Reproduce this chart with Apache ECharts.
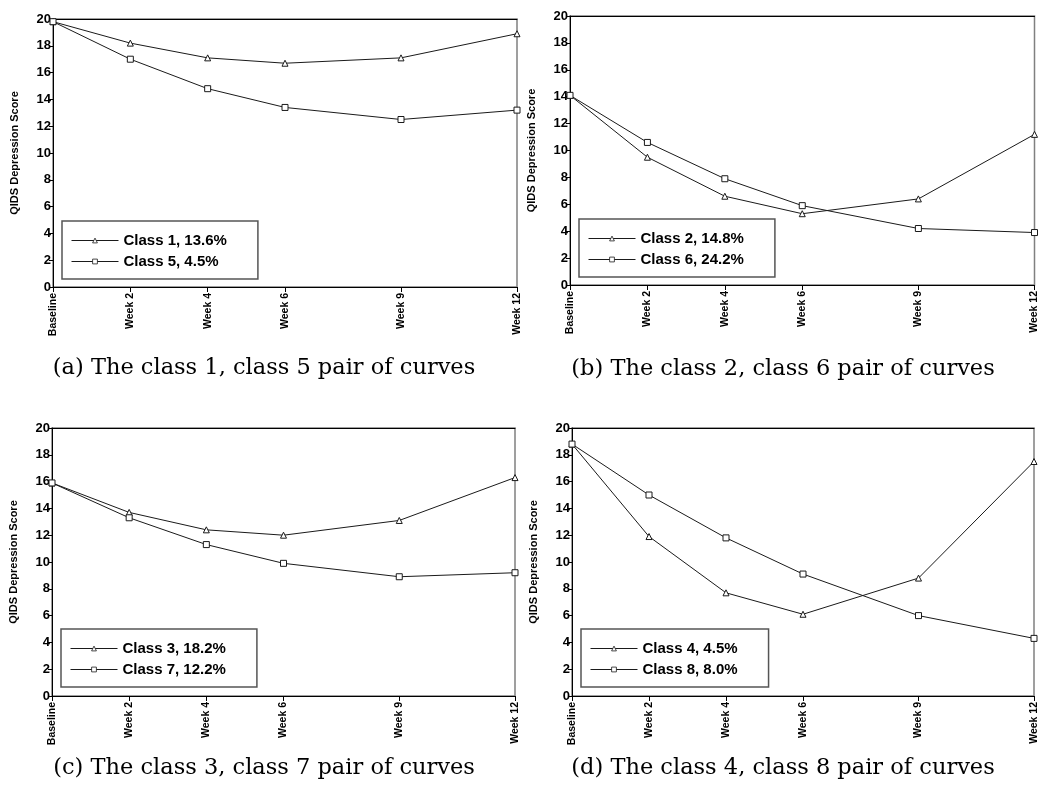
<!DOCTYPE html>
<html>
<head>
<meta charset="utf-8">
<script src="https://cdn.jsdelivr.net/npm/echarts@6/dist/echarts.min.js"></script>
<style>
html, body { margin: 0; padding: 0; background: #fff; }
#chart { width: 1040px; height: 791px; }
</style>
</head>
<body>
<div id="chart"></div>
<script>
// x positions are weeks, so week 9 sits further out like the original
var weekValues = [0, 2, 4, 6, 9, 12]
var weekLabels = ['Baseline', 'Week 2', 'Week 4', 'Week 6', 'Week 9', 'Week 12']

// QIDS scores
var class1 = [19.8, 18.2, 17.1, 16.7, 17.1, 18.9]
var class5 = [19.8, 17.0, 14.8, 13.4, 12.5, 13.2]
var class2 = [14.1, 9.5, 6.6, 5.3, 6.4, 11.2]
var class6 = [14.1, 10.6, 7.9, 5.9, 4.2, 3.9]
var class3 = [15.9, 13.7, 12.4, 12.0, 13.1, 16.3]
var class7 = [15.9, 13.3, 11.3, 9.9, 8.9, 9.2]
var class4 = [18.8, 11.9, 7.7, 6.1, 8.8, 17.5]
var class8 = [18.8, 15.0, 11.8, 9.1, 6.0, 4.3]

var panels = [
    {grid: {left: 53, top: 19, width: 464, height: 268}, legend: {left: 62, top: 221},
     caption: {x: 264, y: 368, text: '(a) The class 1, class 5 pair of curves'},
     tri: {name: 'Class 1, 13.6%', data: class1}, sq: {name: 'Class 5, 4.5%', data: class5}},
    {grid: {left: 570, top: 16, width: 465, height: 269}, legend: {left: 579, top: 219},
     caption: {x: 783, y: 369, text: '(b) The class 2, class 6 pair of curves'},
     tri: {name: 'Class 2, 14.8%', data: class2}, sq: {name: 'Class 6, 24.2%', data: class6}},
    {grid: {left: 52, top: 428, width: 463, height: 268}, legend: {left: 61, top: 629},
     caption: {x: 264, y: 768, text: '(c) The class 3, class 7 pair of curves'},
     tri: {name: 'Class 3, 18.2%', data: class3}, sq: {name: 'Class 7, 12.2%', data: class7}},
    {grid: {left: 572, top: 428, width: 462, height: 268}, legend: {left: 581, top: 629},
     caption: {x: 783, y: 768, text: '(d) The class 4, class 8 pair of curves'},
     tri: {name: 'Class 4, 4.5%', data: class4}, sq: {name: 'Class 8, 8.0%', data: class8}}
]

var sans = '"Liberation Sans", Arial, sans-serif'

function toPoints(values) {
    var pts = []
    for (var i = 0; i < values.length; i++) {
        pts.push([weekValues[i], values[i]])
    }
    return pts
}

function lineSeries(s, idx, symbol) {
    return {
        name: s.name,
        type: 'line',
        xAxisIndex: idx,
        yAxisIndex: idx,
        data: toPoints(s.data),
        symbol: symbol,
        symbolSize: 6,
        showSymbol: true,
        lineStyle: {color: '#1a1a1a', width: 1},
        // hollow marker with a thin outline
        itemStyle: {color: '#fff', borderColor: '#1a1a1a', borderWidth: 1},
        emphasis: {disabled: true},
        animation: false
    }
}

var grids = [], xAxes = [], yAxes = [], series = [], legends = [], texts = []

panels.forEach(function (p, i) {
    grids.push(Object.assign({show: true, borderColor: '#808080', borderWidth: 1.5, backgroundColor: 'transparent'}, p.grid))

    xAxes[i] = {
        type: 'value', gridIndex: i, min: 0, max: 12,
        axisLine: {show: true, onZero: false, lineStyle: {color: '#000', width: 1}},
        axisTick: {show: true, customValues: weekValues, length: 5, lineStyle: {color: '#000'}},
        axisLabel: {
            customValues: weekValues, rotate: 90, margin: 6,
            fontSize: 10.5, fontWeight: 'bold', fontFamily: sans, color: '#000',
            formatter: function (v) { return weekLabels[weekValues.indexOf(v)] }
        },
        splitLine: {show: false}
    }
    // black frame line along the top
    xAxes[i + 4] = {
        type: 'value', gridIndex: i, min: 0, max: 12, position: 'top',
        axisLine: {show: true, onZero: false, lineStyle: {color: '#000', width: 1}},
        axisTick: {show: false}, axisLabel: {show: false}, splitLine: {show: false}
    }

    yAxes.push({
        type: 'value', gridIndex: i, min: 0, max: 20, interval: 2,
        name: 'QIDS Depression Score', nameLocation: 'middle', nameGap: 33,
        nameTextStyle: {fontSize: 11, fontWeight: 'bold', fontFamily: sans, color: '#000'},
        axisLine: {show: true, lineStyle: {color: '#000', width: 1}},
        axisTick: {show: true, length: 4, lineStyle: {color: '#000'}},
        axisLabel: {fontSize: 13, fontWeight: 'bold', fontFamily: sans, color: '#000', margin: 2},
        splitLine: {show: false}
    })

    series.push(lineSeries(p.tri, i, 'triangle'))
    series.push(lineSeries(p.sq, i, 'rect'))

    legends.push({
        data: [p.tri.name, p.sq.name],
        orient: 'vertical',
        left: p.legend.left, top: p.legend.top,
        padding: [12, 31, 10, 9],
        itemWidth: 47, itemHeight: 6, itemGap: 6,
        itemStyle: {color: '#fff', borderColor: '#1a1a1a', borderWidth: 0.8},
        lineStyle: {color: '#1a1a1a', width: 1},
        borderColor: '#555', borderWidth: 1.5, borderRadius: 0,
        selectedMode: false,
        textStyle: {fontSize: 15, fontWeight: 'bold', fontFamily: sans, color: '#000'}
    })

    texts.push({
        type: 'text', x: p.caption.x, y: p.caption.y,
        style: {text: p.caption.text, font: '22.5px "DejaVu Serif"', textAlign: 'center', textVerticalAlign: 'middle', fill: '#000'}
    })
})

var chart = echarts.init(document.getElementById('chart'))
chart.setOption({
    backgroundColor: '#fff',
    animation: false,
    grid: grids,
    xAxis: xAxes,
    yAxis: yAxes,
    legend: legends,
    series: series,
    graphic: texts
})
</script>
</body>
</html>
